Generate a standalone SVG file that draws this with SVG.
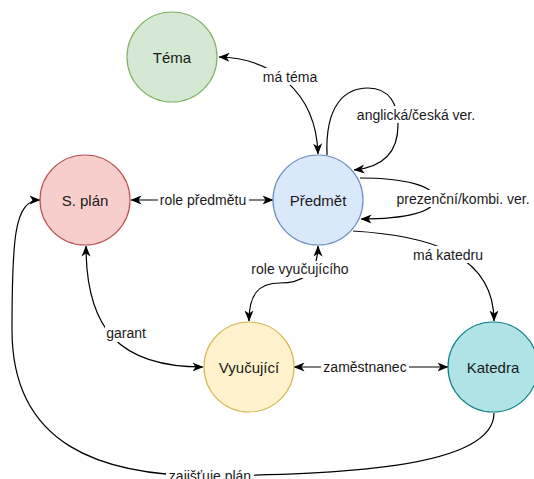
<svg xmlns="http://www.w3.org/2000/svg" width="534" height="479" viewBox="0 0 534 479">
<style>
.node{stroke-width:1.2}
.nl{font-family:"Liberation Sans",Arial,sans-serif;font-size:15px;fill:#1a1a1a;text-anchor:middle;dominant-baseline:central}
.e{fill:none;stroke:#000;stroke-width:1.2}
.el{font-family:"Liberation Sans",Arial,sans-serif;font-size:14px;fill:#1a1a1a;text-anchor:middle;dominant-baseline:central}
.bg{fill:#fff}
</style>
<defs>
<marker id="arr" viewBox="0 0 11 10" refX="10.5" refY="5" markerWidth="11" markerHeight="10" markerUnits="userSpaceOnUse" orient="auto-start-reverse">
<path d="M0,0.5 L11,5 L0,9.5 L3,5 z" fill="#000"/>
</marker>
</defs>
<rect width="534" height="479" fill="#fff"/>
<g id="connectors">
<g id="e-ma-tema">
<path class="e" d="M219,57 C270,58 316,90 318,154" marker-start="url(#arr)" marker-end="url(#arr)"/>
<rect class="bg" x="261" y="68" width="58" height="17"/>
<text class="el" x="290" y="77">má téma</text>
</g>
<g id="e-anglicka">
<path class="e" d="M327,155 C325,105 345,88 368,88 C390,88 398,105 398,125 C398,150 385,167 354,170" marker-end="url(#arr)"/>
<rect class="bg" x="356" y="106" width="121" height="17"/>
<text class="el" x="416" y="115">anglická/česká ver.</text>
</g>
<g id="e-prezencni">
<path class="e" d="M360,178 C405,178 435,186 435,199 C435,212 405,219 361,219" marker-end="url(#arr)"/>
<rect class="bg" x="396" y="190" width="136" height="17"/>
<text class="el" x="463" y="199">prezenční/kombi. ver.</text>
</g>
<g id="e-ma-katedru">
<path class="e" d="M353,231 C420,235 494,250 494,321" marker-end="url(#arr)"/>
<rect class="bg" x="411" y="246" width="74" height="17"/>
<text class="el" x="448" y="255">má katedru</text>
</g>
<g id="e-role-predmetu">
<path class="e" d="M131,200 L273,200" marker-start="url(#arr)" marker-end="url(#arr)"/>
<rect class="bg" x="158" y="191" width="91" height="17"/>
<text class="el" x="203" y="200">role předmětu</text>
</g>
<g id="e-role-vyucujiciho">
<path class="e" d="M318,246 C318,275 300,283 280,283 C258,283 249,295 249,321" marker-start="url(#arr)" marker-end="url(#arr)"/>
<rect class="bg" x="249" y="261" width="103" height="17"/>
<text class="el" x="300" y="269">role vyučujícího</text>
</g>
<g id="e-garant">
<path class="e" d="M86,246 C86,330 120,367 203,367" marker-start="url(#arr)" marker-end="url(#arr)"/>
<rect class="bg" x="105" y="325" width="43" height="17"/>
<text class="el" x="126" y="333">garant</text>
</g>
<g id="e-zamestnanec">
<path class="e" d="M294,367 L448,367" marker-start="url(#arr)" marker-end="url(#arr)"/>
<rect class="bg" x="321" y="358" width="88" height="17"/>
<text class="el" x="365" y="367">zaměstnanec</text>
</g>
<g id="e-zajistuje">
<path class="e" d="M494,413 C494,470 330,474 210,476 C100,476 12,445 12,330 C12,240 14,200 40,200" marker-end="url(#arr)"/>
<rect class="bg" x="166" y="467" width="88" height="17"/>
<text class="el" x="210" y="476">zajišťuje plán</text>
</g>
</g>
<g id="node-tema">
<circle class="node" cx="172" cy="57" r="45" fill="#d5e8d4" stroke="#82b366"/>
<text class="nl" x="172" y="57">Téma</text>
</g>
<g id="node-predmet">
<circle class="node" cx="318" cy="200" r="45" fill="#dae8fc" stroke="#6c8ebf"/>
<text class="nl" x="318" y="200">Předmět</text>
</g>
<g id="node-splan">
<circle class="node" cx="85" cy="200" r="45" fill="#f8cecc" stroke="#b85450"/>
<text class="nl" x="85" y="200">S. plán</text>
</g>
<g id="node-vyucujici">
<circle class="node" cx="249" cy="367" r="45" fill="#fff2cc" stroke="#d6b656"/>
<text class="nl" x="249" y="367">Vyučující</text>
</g>
<g id="node-katedra">
<circle class="node" cx="493" cy="367" r="45" fill="#b0e3e6" stroke="#0e8088"/>
<text class="nl" x="493" y="367">Katedra</text>
</g>
</svg>
